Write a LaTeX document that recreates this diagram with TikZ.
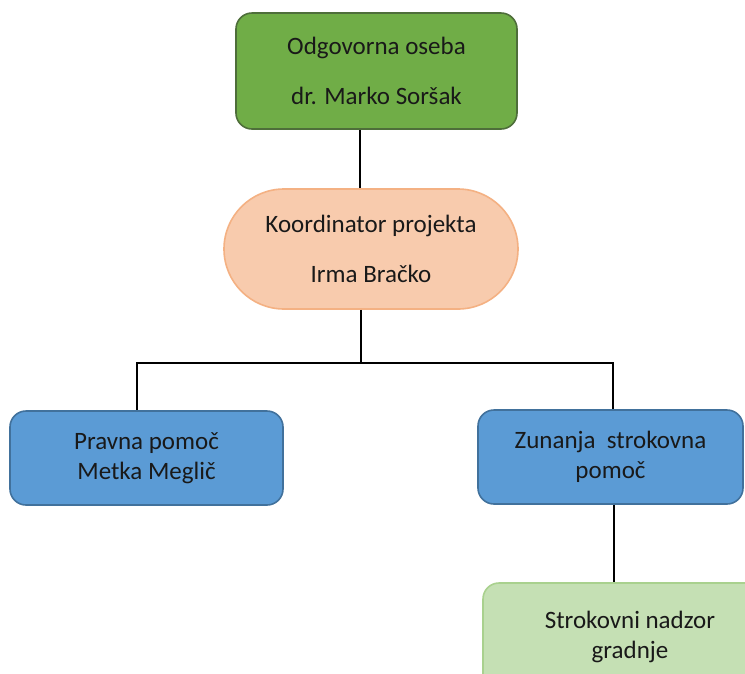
\documentclass[tikz,border=0pt]{standalone}
\usepackage{fontspec}
\setmainfont{Carlito}
\definecolor{headfill}{HTML}{70AD47}
\definecolor{headline}{HTML}{4E6E3A}
\definecolor{coordfill}{HTML}{F8CBAD}
\definecolor{coordline}{HTML}{F4B183}
\definecolor{helpfill}{HTML}{5B9BD5}
\definecolor{helpline}{HTML}{41719C}
\definecolor{subfill}{HTML}{C5E0B4}
\definecolor{subline}{HTML}{A9D18E}
\begin{document}
\begin{tikzpicture}[x=1pt, y=-1pt,
    box/.style={draw, line width=1.6pt, rounded corners=16pt, align=center, text=black!90,
      font=\fontsize{25}{30}\selectfont, inner sep=0pt},
    link/.style={draw, line width=2pt}]
      \useasboundingbox (0,0) rectangle (745,673);
      \clip (0,0) rectangle (745,673);
      \node[box, fill=headfill, draw=headline, minimum width=281pt, minimum height=116pt](head) at (376.5,71)
        {Odgovorna oseba\\[20pt]dr. Marko Soršak};
      \node[box, fill=coordfill, draw=coordline, rounded corners=60pt, minimum width=294pt, minimum height=120pt](coord) at (371,249)
        {Koordinator projekta\\[20pt]Irma Bračko};
      \node[box, fill=helpfill, draw=helpline, minimum width=273pt, minimum height=94pt](legal) at (146.5,458)
        {Pravna pomoč\\Metka Meglič};
      \node[box, fill=helpfill, draw=helpline, minimum width=265pt, minimum height=94pt](extern) at (610.5,457)
        {Zunanja\ \ strokovna\\pomoč};
      \node[box, fill=subfill, draw=subline, minimum width=294pt, minimum height=108pt](super) at (630,637)
        {Strokovni nadzor\\gradnje};
      % connectors
      \coordinate (trunk) at (360,0);
      \coordinate (bus) at (361,363);
      \coordinate (stem) at (613.5,0);
      \draw[link](head.south -| trunk)--(coord.north -| trunk);
      \draw[link](coord.south -| bus)--(bus);
      \draw[link](bus)-|([xshift=-9.5pt]legal.north);
      \draw[link](bus)-|([xshift=2.5pt]extern.north);
      \draw[link](extern.south -| stem)--(super.north -| stem);
    \end{tikzpicture}
\end{document}
